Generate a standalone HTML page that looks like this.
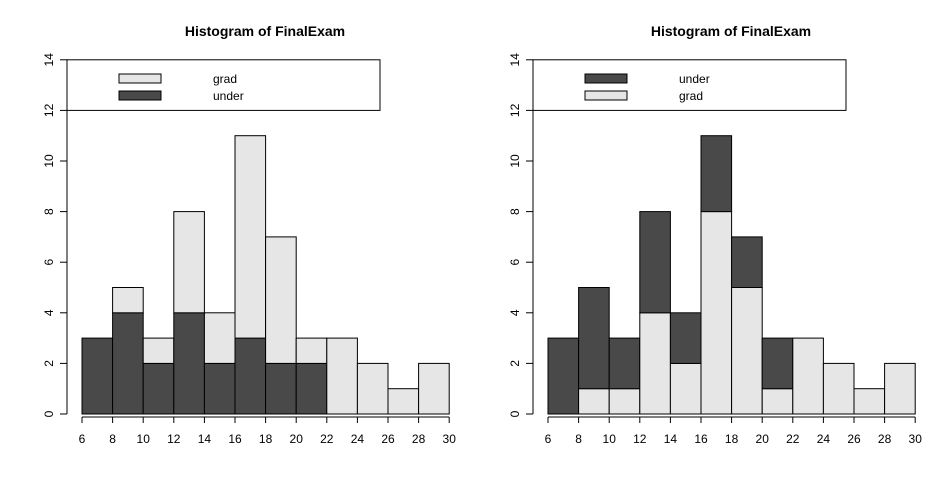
<!DOCTYPE html>
<html><head><meta charset="utf-8"><style>body{margin:0;background:#fff}svg{display:block}</style></head>
<body>
<svg id="s" width="931" height="482" xmlns="http://www.w3.org/2000/svg" font-family="Liberation Sans, Arial, sans-serif"></svg>
<script>
const s=document.getElementById('s');let h='';
const D='#494949',L='#e6e6e6';
const under=[3,4,2,4,2,3,2,2,0,0,0,0],grad=[0,1,1,4,2,8,5,1,3,2,1,2];
function X(o,v){return o+82+(v-6)*15.3;}
function Y(v){return 414-v*25.3;}
function plot(o,first){
  h+=`<text x="${o+265}" y="36" font-size="14" font-weight="bold" text-anchor="middle">Histogram of FinalExam</text>`;
  for(let i=0;i<12;i++){
    const x0=X(o,6+2*i),x1=X(o,8+2*i);
    const a=first?under[i]:grad[i],b=first?grad[i]:under[i];
    const ca=first?D:L,cb=first?L:D;
    if(a>0)h+=`<rect x="${x0}" y="${Y(a)}" width="${x1-x0}" height="${a*25.3}" fill="${ca}" stroke="#000" stroke-width="1"/>`;
    if(b>0)h+=`<rect x="${x0}" y="${Y(a+b)}" width="${x1-x0}" height="${b*25.3}" fill="${cb}" stroke="#000" stroke-width="1"/>`;
  }
  // x axis
  h+=`<line x1="${X(o,6)}" y1="417" x2="${X(o,30)}" y2="417" stroke="#000"/>`;
  for(let v=6;v<=30;v+=2){const x=X(o,v);h+=`<line x1="${x}" y1="417" x2="${x}" y2="423" stroke="#000"/><text x="${x}" y="443" font-size="12" text-anchor="middle">${v}</text>`;}
  // y axis
  const ax=o+67;
  h+=`<line x1="${ax}" y1="${Y(0)}" x2="${ax}" y2="${Y(14)}" stroke="#000"/>`;
  for(let v=0;v<=14;v+=2){const y=Y(v);h+=`<line x1="${ax-7}" y1="${y}" x2="${ax}" y2="${y}" stroke="#000"/><text transform="translate(${ax-18},${y}) rotate(-90)" font-size="12" text-anchor="middle" dy="4">${v}</text>`;}
  // legend
  h+=`<rect x="${ax}" y="${Y(14)}" width="313" height="${Y(12)-Y(14)}" fill="#fff" stroke="#000"/>`;
  const c1=first?L:D,c2=first?D:L,t1=first?'grad':'under',t2=first?'under':'grad';
  h+=`<rect x="${o+119}" y="74" width="42" height="9" fill="${c1}" stroke="#000"/><text x="${o+213}" y="83" font-size="12">${t1}</text>`;
  h+=`<rect x="${o+119}" y="91" width="42" height="9" fill="${c2}" stroke="#000"/><text x="${o+213}" y="100" font-size="12">${t2}</text>`;
}
plot(0,true);plot(466,false);
s.innerHTML=h;
</script>
</body></html>
